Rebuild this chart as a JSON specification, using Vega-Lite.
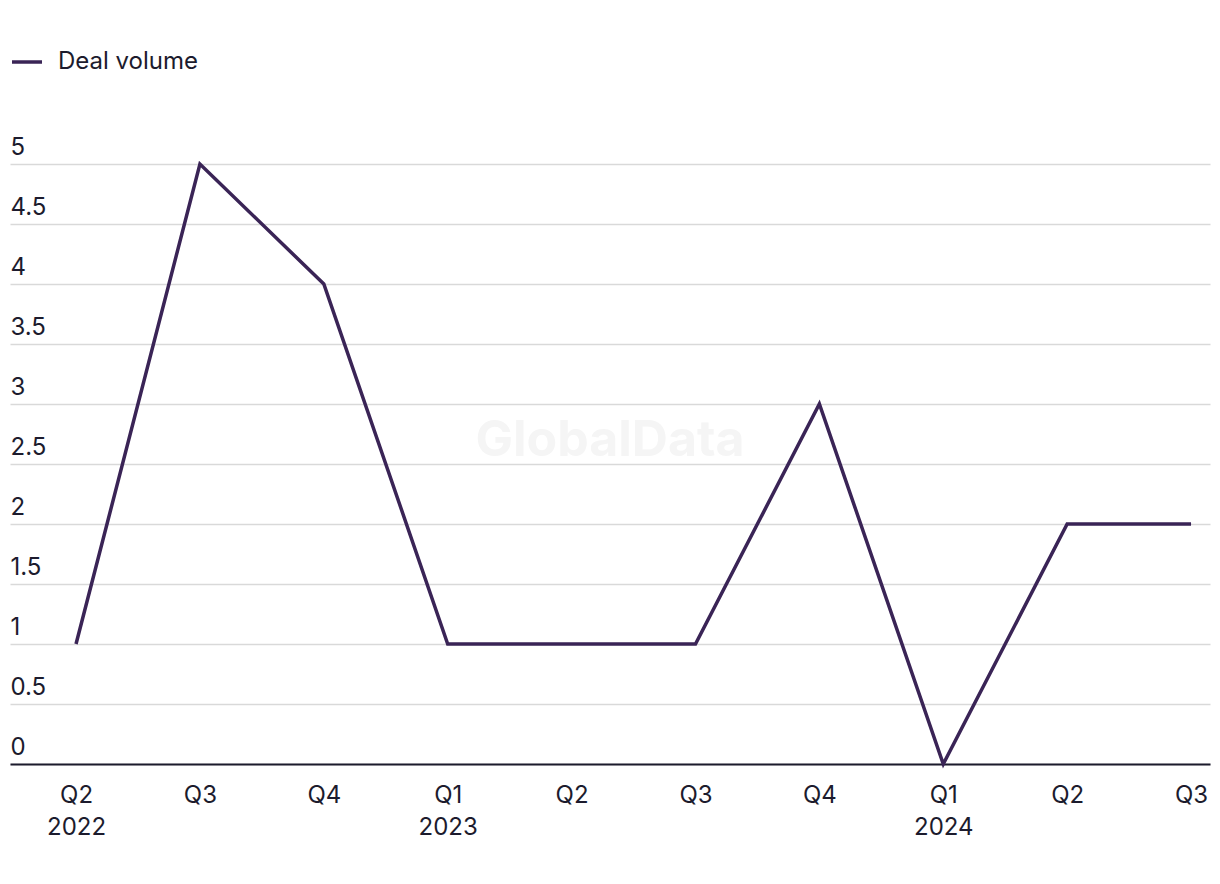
{
  "$schema": "https://vega.github.io/schema/vega-lite/v6.json",
  "width": 1200,
  "height": 600,
  "autosize": {"type": "none"},
  "padding": {"left": 10, "top": 164, "right": 10, "bottom": 120},
  "background": "#ffffff",
  "config": {
    "view": {"stroke": null},
    "font": "Inter",
    "axis": {"labelFont": "Inter", "labelFontSize": 24, "labelColor": "#1c1b2d"},
    "legend": {"labelFont": "Inter", "labelFontSize": 24, "labelColor": "#1c1b2d"}
  },
  "datasets": {
    "deals": [
      {"i": 0, "quarter": "Q2 2022", "series": "Deal volume", "value": 1},
      {"i": 1, "quarter": "Q3 2022", "series": "Deal volume", "value": 5},
      {"i": 2, "quarter": "Q4 2022", "series": "Deal volume", "value": 4},
      {"i": 3, "quarter": "Q1 2023", "series": "Deal volume", "value": 1},
      {"i": 4, "quarter": "Q2 2023", "series": "Deal volume", "value": 1},
      {"i": 5, "quarter": "Q3 2023", "series": "Deal volume", "value": 1},
      {"i": 6, "quarter": "Q4 2023", "series": "Deal volume", "value": 3},
      {"i": 7, "quarter": "Q1 2024", "series": "Deal volume", "value": 0},
      {"i": 8, "quarter": "Q2 2024", "series": "Deal volume", "value": 2},
      {"i": 9, "quarter": "Q3 2024", "series": "Deal volume", "value": 2}
    ],
    "watermark": [{"i": 4.31, "value": 2.69, "text": "GlobalData"}]
  },
  "encoding": {
    "x": {
      "field": "i", "type": "quantitative",
      "scale": {"domain": [-0.533, 9.153], "nice": false, "zero": false},
      "axis": {
        "title": null, "grid": false, "ticks": false, "tickSize": 0,
        "values": [0, 1, 2, 3, 4, 5, 6, 7, 8, 9],
        "labelExpr": "[['Q2','2022'],['Q3'],['Q4'],['Q1','2023'],['Q2'],['Q3'],['Q4'],['Q1','2024'],['Q2'],['Q3']][datum.value]",
        "labelAlign": "center", "labelBaseline": "top", "labelPadding": 19, "labelLineHeight": 32,
        "labelFlush": false, "labelOverlap": false,
        "domain": true, "domainColor": "#1c1b2d", "domainWidth": 2
      }
    },
    "y": {
      "field": "value", "type": "quantitative",
      "scale": {"domain": [0, 5], "nice": false},
      "axis": {
        "title": null, "values": [0, 0.5, 1, 1.5, 2, 2.5, 3, 3.5, 4, 4.5, 5],
        "format": ".1~f", "ticks": false, "tickSize": 0, "domain": false,
        "grid": true, "gridColor": "#d9d9d9", "gridWidth": 1.5,
        "labelAlign": "left", "labelBaseline": "alphabetic", "labelPadding": 0, "labelOffset": -10,
        "labelFlush": false, "labelOverlap": false
      }
    }
  },
  "layer": [
    {
      "data": {"name": "watermark"},
      "mark": {"type": "text", "fontSize": 50, "fontWeight": "bold", "font": "Inter", "color": "#f5f5f5", "align": "center", "baseline": "middle"},
      "encoding": {
        "text": {"field": "text"}
      }
    },
    {
      "data": {"name": "deals"},
      "mark": {"type": "line", "strokeWidth": 3.5, "strokeJoin": "miter", "strokeCap": "butt"},
      "encoding": {
        "color": {
          "field": "series", "type": "nominal",
          "scale": {"range": ["#3a2456"]},
          "legend": {
            "title": null, "orient": "none", "legendX": 0, "legendY": -119,
            "symbolType": "stroke", "symbolSize": 900, "symbolStrokeWidth": 3.5,
            "labelOffset": 14, "padding": 0
          }
        }
      }
    }
  ]
}
